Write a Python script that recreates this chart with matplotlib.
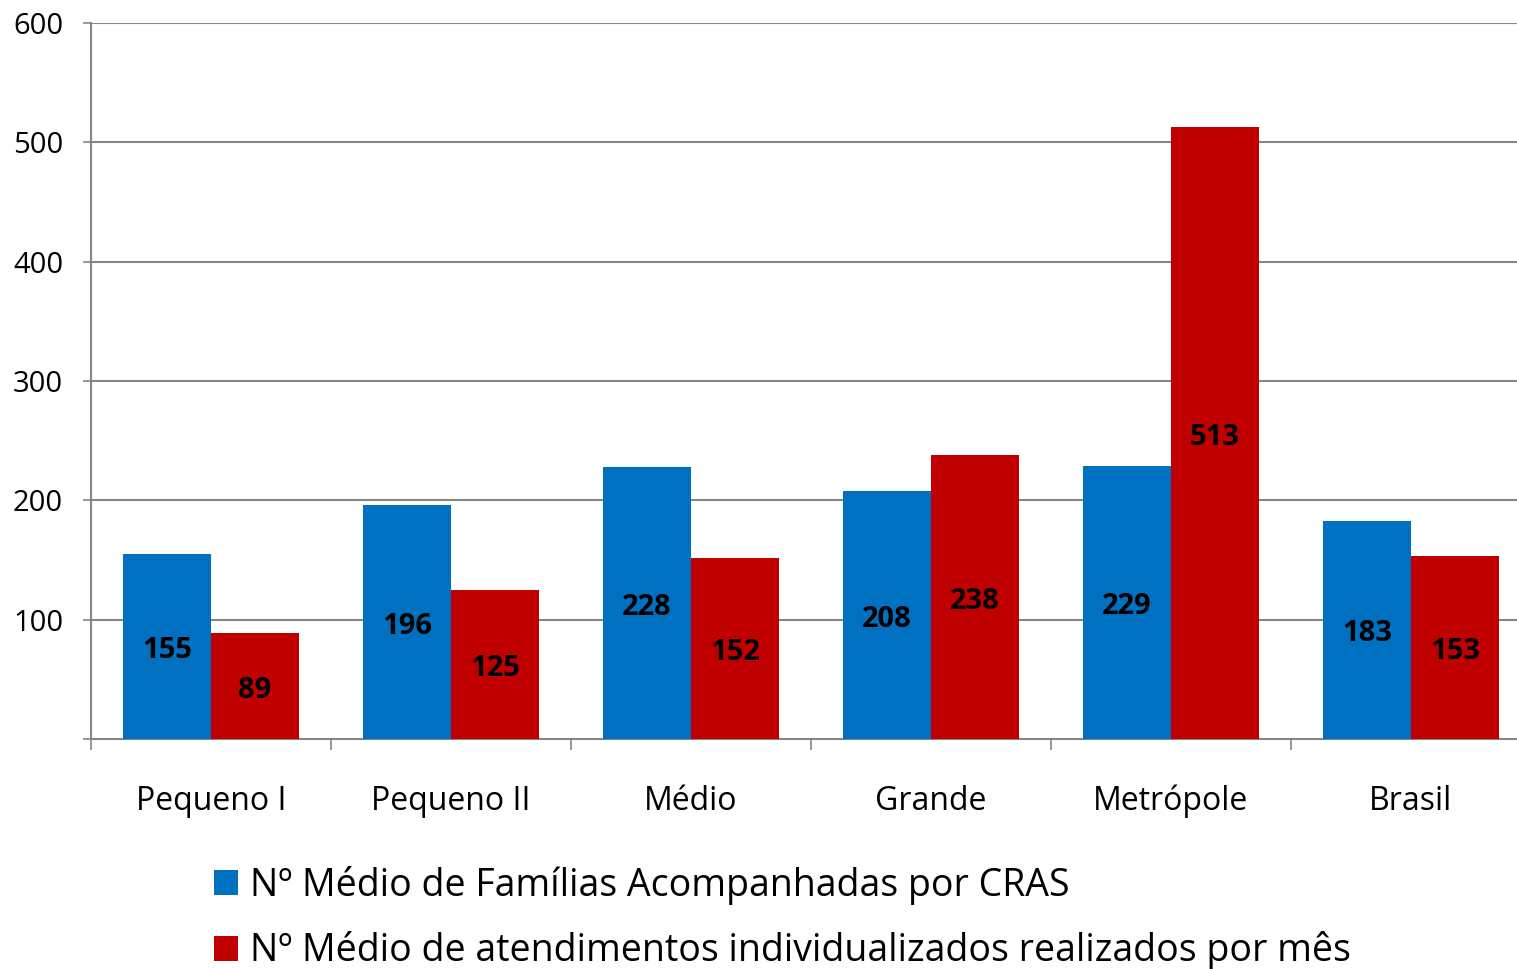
import numpy as np
import matplotlib
matplotlib.use("Agg")
import matplotlib.pyplot as plt
from matplotlib.ticker import FixedLocator

plt.rcParams["font.family"] = ["Open Sans", "DejaVu Sans"]

# data
categorias = ["Pequeno I", "Pequeno II", "Médio", "Grande", "Metrópole", "Brasil"]
familias = [155, 196, 228, 208, 229, 183]
atendimentos = [89, 125, 152, 238, 513, 153]
yticks = [100, 200, 300, 400, 500, 600]
serie_nomes = [
    "Nº Médio de Famílias Acompanhadas por CRAS",
    "Nº Médio de atendimentos individualizados realizados por mês",
]

AZUL = "#0070C0"
VERMELHO = "#C00000"
CINZA = "#868686"

W, H = 1517, 969
fig = plt.figure(figsize=(W / 100, H / 100), dpi=100)
# plot area from x=91 to x=1531 (slightly past the right edge), y=23 to 739
ax = fig.add_axes([91 / W, 1 - 739 / H, 1440 / W, (739 - 23) / H])

x = np.arange(len(categorias))
w = 88 / 240

b1 = ax.bar(x - w / 2, familias, width=w, color=AZUL, label=serie_nomes[0], zorder=3)
b2 = ax.bar(x + w / 2, atendimentos, width=w, color=VERMELHO, label=serie_nomes[1], zorder=3)

# value labels centred in each bar (nudged down a little, digits have no descender)
for bars, vals in ((b1, familias), (b2, atendimentos)):
    for rect, v in zip(bars, vals):
        ax.annotate(str(v), (rect.get_x() + rect.get_width() / 2, v / 2),
                    xytext=(0, -3), textcoords="offset points",
                    ha="center", va="center", fontsize=21, fontweight="bold",
                    color="black", zorder=4)

ax.set_xlim(-0.5, len(categorias) - 0.5)
ax.set_ylim(0, 600)

ax.set_yticks(yticks)
ax.set_yticklabels([str(t) for t in yticks], fontsize=21)
ax.yaxis.set_minor_locator(FixedLocator([0]))
ax.tick_params(axis="y", which="both", length=6, width=1.2, color=CINZA, pad=14)
ax.grid(axis="y", color=CINZA, linewidth=1.5, zorder=0)

ax.set_xticks(x)
ax.set_xticklabels(categorias, fontsize=23)
ax.xaxis.set_minor_locator(FixedLocator(np.arange(-0.5, len(categorias), 1.0)))
ax.tick_params(axis="x", which="major", length=0, pad=33)
ax.tick_params(axis="x", which="minor", length=8, width=1.2, color=CINZA)

for s in ("top", "right"):
    ax.spines[s].set_visible(False)
for s in ("left", "bottom"):
    ax.spines[s].set_color(CINZA)
    ax.spines[s].set_linewidth(1.5)

fig.legend(handles=[b1, b2], labels=serie_nomes, loc="upper left",
           bbox_to_anchor=(214 / W, 1 - 866 / H), frameon=False,
           fontsize=27, handlelength=0.65, handleheight=0.65,
           handletextpad=0.3, labelspacing=0.7, borderpad=0, borderaxespad=0)

fig.savefig("out.png", dpi=100)
